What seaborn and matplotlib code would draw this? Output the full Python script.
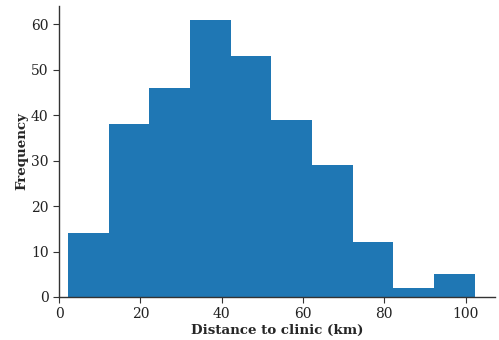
import numpy as np
import pandas as pd
import matplotlib
matplotlib.use("Agg")
import matplotlib.pyplot as plt
import seaborn as sns

# Binned distances to clinic (km) and number of patients per bin
bin_edges = [2.2, 12.2, 22.2, 32.2, 42.2, 52.2, 62.2, 72.2, 82.2, 92.2, 102.2]
counts = [14, 38, 46, 61, 53, 39, 29, 12, 2, 5]
x_ticks = [0, 20, 40, 60, 80, 100]
y_ticks = [0, 10, 20, 30, 40, 50, 60]

sns.set_style("ticks")
plt.rcParams["font.family"] = ["DejaVu Serif"]

centers = [(a + b) / 2 for a, b in zip(bin_edges[:-1], bin_edges[1:])]
df = pd.DataFrame({"distance": centers, "n": counts})

fig = plt.figure(figsize=(4.99, 3.40), dpi=100)
ax = fig.add_axes([59 / 499, 43 / 340, 436 / 499, 291 / 340])

sns.histplot(data=df, x="distance", weights="n", bins=bin_edges,
             color="#1f77b4", alpha=1.0, linewidth=0, ax=ax)

ax.set_xlim(0, 107.2)
ax.set_ylim(0, 64.05)
ax.set_xticks(x_ticks)
ax.set_yticks(y_ticks)
ax.tick_params(labelsize=10, length=4, width=0.8, color="#333333", labelcolor="#222222")
ax.set_xlabel("Distance to clinic (km)", fontweight="bold", fontsize=9.6, labelpad=2)
ax.set_ylabel("Frequency", fontweight="bold", fontsize=9.6, labelpad=2)
for s in ("left", "bottom"):
    ax.spines[s].set_color("#333333")
    ax.spines[s].set_linewidth(1.0)
sns.despine(ax=ax)

fig.savefig("out.png", dpi=100)
